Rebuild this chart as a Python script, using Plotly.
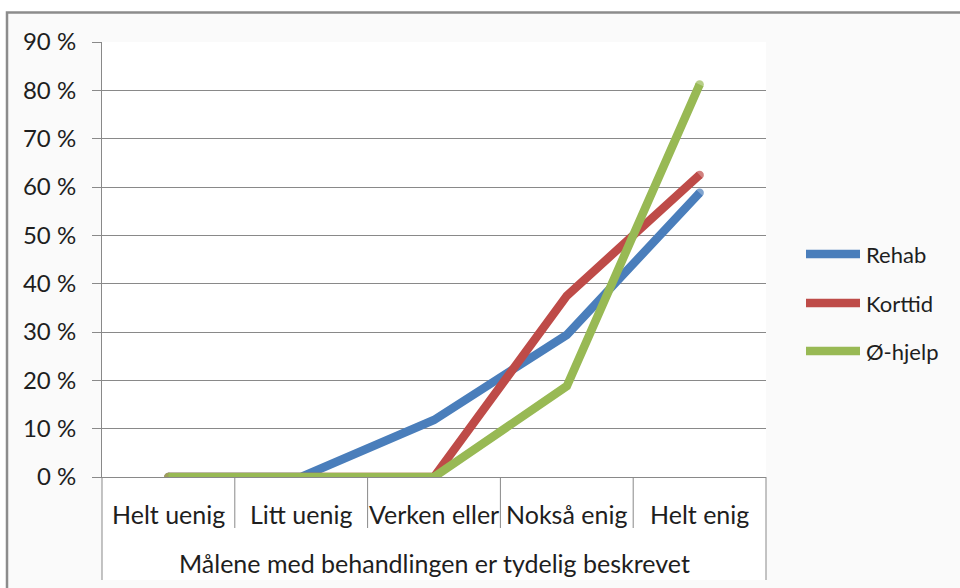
import plotly.graph_objects as go

# Response categories and grouping label
categories = ["Helt uenig", "Litt uenig", "Verken eller", "Nokså enig", "Helt enig"]
group_label = "Målene med behandlingen er tydelig beskrevet"

# Share of responses per category (percent)
rehab = [0, 0, 11.8, 29.4, 58.8]
korttid = [0, 0, 0, 37.5, 62.5]
ohjelp = [0, 0, 0, 18.8, 81.2]

series_names = ["Rehab", "Korttid", "Ø-hjelp"]
series_values = [rehab, korttid, ohjelp]
series_colors = ["#4A7EBB", "#BE4B48", "#98B954"]

y_ticks = [0, 10, 20, 30, 40, 50, 60, 70, 80, 90]
y_tick_labels = [f"{v} %" for v in y_ticks]

# Canvas geometry
W, H = 960, 588
L, R, T, B = 102, 766, 42, 477
PW, PH = R - L, B - T
FONT = "Lato"
TEXT = "#1e1e1e"
GRID = "#898989"
LINE_W = 8.5


def px_x(p):
    return (p - L) / PW


def px_y(p):
    return (B - p) / PH


fig = go.Figure()
n = len(categories)
# round end caps: dots only on the first and last point of each line
cap_sizes = [LINE_W if i in (0, n - 1) else 0 for i in range(n)]
for name, vals, col in zip(series_names, series_values, series_colors):
    fig.add_trace(go.Scatter(
        x=categories, y=vals, name=name, mode="lines+markers",
        line=dict(color=col, width=LINE_W),
        marker=dict(color=col, size=cap_sizes, line=dict(width=0)),
        showlegend=False, hoverinfo="x+y+name",
    ))

shapes = [
    # outer chart frame
    dict(type="rect", xref="paper", yref="paper",
         x0=px_x(7), x1=px_x(975), y0=px_y(600), y1=px_y(12.5),
         fillcolor="#fafafa", line=dict(color="#8c8c8c", width=2.5), layer="below"),
    # white plot + category label area
    dict(type="rect", xref="paper", yref="paper",
         x0=0, x1=1, y0=px_y(580), y1=1,
         fillcolor="white", line=dict(width=0), layer="below"),
    # vertical borders of the category label block
    dict(type="line", xref="paper", yref="paper", x0=0, x1=0,
         y0=px_y(580), y1=0, line=dict(color=GRID, width=1)),
    dict(type="line", xref="paper", yref="paper", x0=1, x1=1,
         y0=px_y(580), y1=0, line=dict(color=GRID, width=1)),
]
# separators between the first-level categories
for i in range(n - 1):
    shapes.append(dict(type="line", xref="x", yref="paper",
                       x0=i + 0.5, x1=i + 0.5, y0=px_y(528), y1=0,
                       line=dict(color=GRID, width=1)))

annotations = []
for c in categories:
    annotations.append(dict(x=c, xref="x", y=0, yref="paper", yshift=-37,
                            text=c, showarrow=False, yanchor="middle",
                            xanchor="center",
                            font=dict(family=FONT, size=25, color=TEXT)))
annotations.append(dict(x=(n - 1) / 2, xref="x", y=0, yref="paper",
                        yshift=-86, text=group_label, showarrow=False,
                        yanchor="middle", xanchor="center",
                        font=dict(family=FONT, size=25, color=TEXT)))

# legend drawn at the right of the plot area
legend_rows = [254, 303, 351]
for name, col, yy in zip(series_names, series_colors, legend_rows):
    shapes.append(dict(type="line", xref="paper", yref="paper",
                       x0=px_x(806), x1=px_x(860), y0=px_y(yy), y1=px_y(yy),
                       line=dict(color=col, width=LINE_W)))
    annotations.append(dict(x=px_x(864), xref="paper", y=px_y(yy), yref="paper",
                            text=name, showarrow=False, xanchor="left",
                            yanchor="middle",
                            font=dict(family=FONT, size=22, color=TEXT)))

fig.update_layout(
    width=W, height=H,
    margin=dict(l=L, r=W - R, t=T, b=H - B, pad=0),
    paper_bgcolor="white", plot_bgcolor="white",
    xaxis=dict(type="category", range=[-0.5, n - 0.5],
               showgrid=False, showticklabels=False, zeroline=False,
               showline=True, linecolor=GRID, linewidth=1, ticks=""),
    yaxis=dict(range=[0, 90], tickvals=y_ticks, ticktext=y_tick_labels,
               showgrid=True, gridcolor=GRID, gridwidth=1, zeroline=False,
               showline=True, linecolor=GRID, linewidth=1,
               ticks="outside", ticklen=9, tickcolor=GRID,
               ticklabelstandoff=11,
               tickfont=dict(family=FONT, size=24, color=TEXT)),
    shapes=shapes, annotations=annotations,
    showlegend=False,
)

fig.write_html("out.html")
